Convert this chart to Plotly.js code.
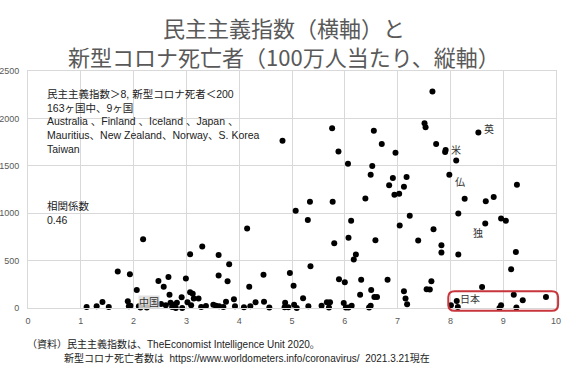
<!DOCTYPE html>
<html>
<head>
<meta charset="utf-8">
<script src="https://cdn.plot.ly/plotly-3.0.1.min.js"></script>
<style>html,body{margin:0;padding:0;background:#fff;}#chart{width:568px;height:370px;}</style>
</head>
<body>
<div id="chart"></div>
<script>
// Democracy index (x) and COVID-19 deaths per million (y); first six are the labelled countries
const demIndex = [8.53, 7.91, 7.98, 8.66, 8.12, 2.25,
  2.18, 1.70, 1.93, 2.66, 2.47, 2.57, 2.06, 2.68, 1.89, 1.11, 1.30, 1.41, 1.53, 1.91, 1.94, 2.10, 2.13,
  2.52, 2.61, 2.70, 2.76, 2.82, 2.73, 2.78, 2.80, 2.92,
  2.99, 2.91, 3.02, 3.30, 3.07, 3.61, 3.81, 4.46, 3.61, 3.78, 4.19, 3.07, 3.12, 3.14, 3.23, 3.90, 3.75,
  4.31, 4.47, 3.09, 3.51, 3.56, 3.62, 3.70, 3.28, 3.37, 3.92, 4.09, 4.21, 4.57, 4.82, 4.15, 4.86,
  5.76, 6.55, 6.70, 5.88, 6.96, 6.06, 6.52, 6.49, 6.91, 6.84, 6.94, 7.03, 7.12, 6.39, 5.34, 5.77,
  5.07, 5.30, 6.12, 7.04, 6.07, 6.58, 5.80, 6.21, 6.17, 5.35, 4.96, 5.03, 5.89, 6.00, 6.31, 6.81,
  6.50, 6.29, 6.56, 6.61, 7.12, 5.21, 4.87, 5.04, 4.93, 5.09, 5.31, 5.56, 5.66, 5.72, 5.70, 5.98,
  6.02, 6.07, 6.13, 6.46, 6.49,
  7.66, 7.51, 7.53, 7.73, 7.90, 8.11, 7.17, 8.82, 8.27, 8.67, 7.23, 8.15, 8.96, 9.05, 7.68, 7.39,
  7.83, 7.83, 8.15, 7.64, 7.55, 7.61, 8.60, 7.15, 7.18, 8.01, 8.14, 8.96, 8.93,
  9.26, 9.24, 9.15, 9.20, 9.37, 9.81, 9.25];
const deathsPerMillion = [1850, 1666, 1406, 891, 74, 4,
  726, 384, 356, 328, 285, 225, 190, 141, 70, 11, 18, 63, 11, 18, 25, 18, 4,
  42, 28, 56, 35, 56, 11, 14, 0, 0,
  310, 113, 60, 648, 567, 560, 461, 352, 342, 282, 225, 166, 151, 99, 99, 92, 67,
  60, 67, 28, 35, 25, 18, 11, 11, 21, 18, 7, 18, 4, 1765, 838, 7,
  1895, 1871, 1730, 1652, 1638, 1522, 1497, 1406, 1370, 1296, 1194, 1205, 1279, 1156, 1120, 1120,
  1025, 927, 920, 870, 740, 715, 683, 564, 511, 440, 370, 236, 303, 271, 299, 299,
  190, 141, 116, 116, 176, 102, 56, 35, 7, 0, 18, 25, 60, 60, 4, 53,
  4, 4, 25, 4, 25,
  2283, 1948, 1906, 1730, 1645, 1557, 1381, 1170, 1152, 1127, 972, 997, 944, 920, 831, 712,
  662, 585, 564, 282, 197, 194, 222, 99, 39, 28, 11, 28, 0,
  1300, 592, 409, 141, 81, 116, 4];
const labelNames = ['英', '米', '仏', '独', '日本', '中国'];
const xTicks = [0, 1, 2, 3, 4, 5, 6, 7, 8, 9, 10];
const yTicks = [0, 500, 1000, 1500, 2000, 2500];

const titleText = '民主主義指数（横軸）と<br>新型コロナ死亡者（100万人当たり、縦軸）';
const boxText = '民主主義指数＞8, 新型コロナ死者＜200<br>163ヶ国中、9ヶ国<br>Australia 、Finland 、Iceland 、Japan 、<br>Mauritius、New Zealand、Norway、S. Korea<br>Taiwan';
const corrText = '相関係数<br>0.46';
const note1 = '（資料）民主主義指数は、TheEconomist Intelligence Unit 2020。';
const note2 = '新型コロナ死亡者数は&nbsp;&nbsp;https://www.worldometers.info/coronavirus/&nbsp;&nbsp;2021.3.21現在';

const FONT = 'Liberation Sans, Arial, Noto Sans CJK JP, sans-serif';
const shifts = [[11, 4], [10, 0], [11, -7], [-7, -9], [13, 2], [2, 6]];

const annotations = labelNames.map((n, i) => ({
  x: demIndex[i], y: deathsPerMillion[i], xref: 'x', yref: 'y', text: n, showarrow: false,
  xshift: shifts[i][0], yshift: shifts[i][1],
  font: {family: FONT, size: 10, color: '#333'},
  bgcolor: n === '中国' ? 'rgba(220,220,220,0.85)' : 'rgba(0,0,0,0)', borderpad: 0
}));
annotations.push(
  {xref: 'paper', yref: 'paper', x: 0.032, y: 0.935, xanchor: 'left', yanchor: 'top', align: 'left',
   showarrow: false, text: boxText, font: {family: FONT, size: 10.5, color: '#222'}},
  {xref: 'paper', yref: 'paper', x: 0.032, y: 0.465, xanchor: 'left', yanchor: 'top', align: 'left',
   showarrow: false, text: corrText, font: {family: FONT, size: 10.5, color: '#222'}},
  {xref: 'paper', yref: 'paper', x: -0.006, y: -0.151, xanchor: 'left', yanchor: 'middle', align: 'left',
   showarrow: false, text: note1, font: {family: FONT, size: 10, color: '#222'}},
  {xref: 'paper', yref: 'paper', x: 0.064, y: -0.210, xanchor: 'left', yanchor: 'middle', align: 'left',
   showarrow: false, text: note2, font: {family: FONT, size: 10, color: '#222'}}
);

// rounded red box (paper coords)
const bx0 = 0.796, bx1 = 1.004, by0 = -0.012, by1 = 0.071, rx = 0.012, ry = 0.026;
const boxPath = `M ${bx0 + rx},${by1} L ${bx1 - rx},${by1} Q ${bx1},${by1} ${bx1},${by1 - ry} ` +
  `L ${bx1},${by0 + ry} Q ${bx1},${by0} ${bx1 - rx},${by0} L ${bx0 + rx},${by0} ` +
  `Q ${bx0},${by0} ${bx0},${by0 + ry} L ${bx0},${by1 - ry} Q ${bx0},${by1} ${bx0 + rx},${by1} Z`;

const trace = {
  x: demIndex, y: deathsPerMillion, type: 'scatter', mode: 'markers', cliponaxis: false,
  marker: {color: '#000', size: 6}, hoverinfo: 'skip'
};

const axisCommon = {
  showgrid: true, gridcolor: '#d9d9d9', gridwidth: 1, zeroline: false,
  showline: true, linecolor: '#d9d9d9', linewidth: 1, mirror: true,
  ticks: '', tickfont: {family: FONT, size: 9, color: '#595959'}, automargin: false
};

const layout = {
  width: 568, height: 370,
  margin: {l: 28, r: 12, t: 71, b: 62},
  paper_bgcolor: '#fff', plot_bgcolor: '#fff',
  showlegend: false,
  title: {text: titleText, x: 0.5, xref: 'container', xanchor: 'center',
          y: 0.90, yref: 'container', yanchor: 'top',
          font: {family: 'Noto Sans CJK JP, sans-serif', size: 22, color: '#595959'}},
  xaxis: Object.assign({}, axisCommon, {range: [0, 10], tickvals: xTicks, ticklabelstandoff: 4}),
  yaxis: Object.assign({}, axisCommon, {range: [0, 2500], tickvals: yTicks, ticklabelstandoff: 6}),
  annotations: annotations,
  shapes: [{type: 'path', xref: 'paper', yref: 'paper', path: boxPath,
            line: {color: '#c8363c', width: 2}, fillcolor: 'rgba(0,0,0,0)', layer: 'above'}]
};

Plotly.newPlot('chart', [trace], layout, {displayModeBar: false, staticPlot: true});
</script>
</body>
</html>
